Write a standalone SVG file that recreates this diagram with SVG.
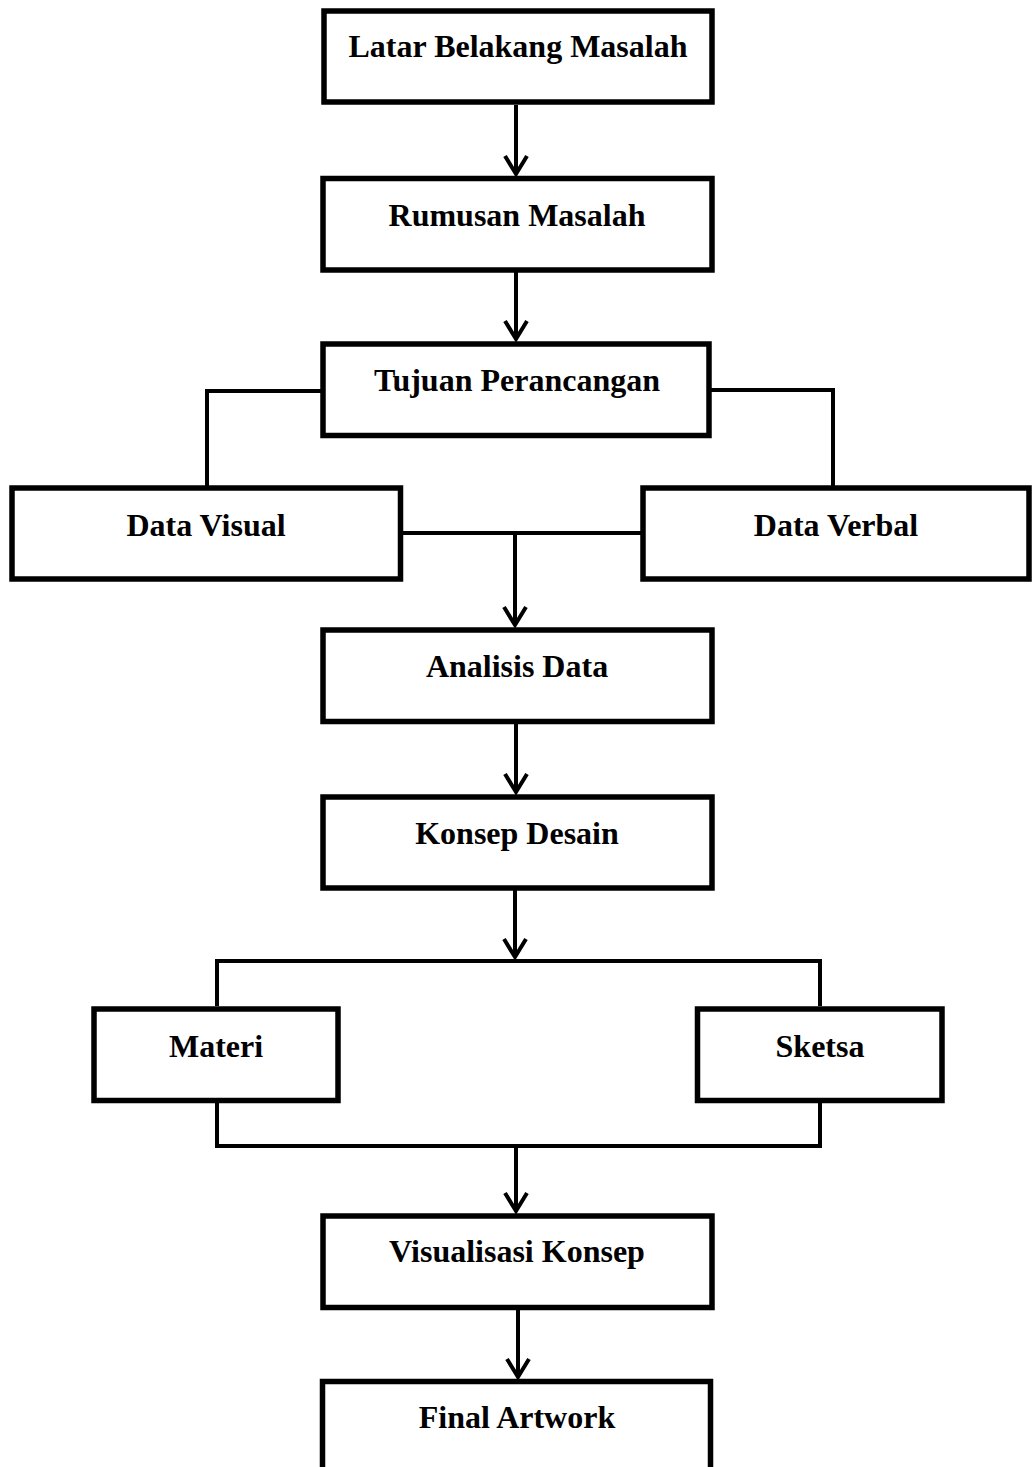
<svg xmlns="http://www.w3.org/2000/svg" width="1032" height="1467" viewBox="0 0 1032 1467">
<style>
.box{fill:#fff;stroke:#000;stroke-width:5.5}
.lbl{font-family:"Liberation Serif","Times New Roman",serif;font-weight:bold;font-size:32px;fill:#000;text-anchor:middle}
.ln{fill:none;stroke:#000;stroke-width:4}
.arr{fill:none;stroke:#000;stroke-width:4;marker-end:url(#ah)}
</style>
<defs>
<marker id="ah" markerUnits="userSpaceOnUse" markerWidth="30" markerHeight="30" viewBox="-22 -15 26 30" refX="0" refY="0" orient="auto">
<path d="M-18,-11 L0,0 L-18,11" fill="none" stroke="#000" stroke-width="4" stroke-linejoin="miter"/>
</marker>
</defs>
<rect width="1032" height="1467" fill="#fff"/>
<g id="connectors">
<path class="arr" d="M516,105 L516,174"/>
<path class="arr" d="M516,272 L516,339"/>
<path class="ln" d="M321,391 L207,391 L207,486"/>
<path class="ln" d="M711,390 L833,390 L833,486"/>
<path class="ln" d="M403,533 L641,533"/>
<path class="arr" d="M515,533 L515,625"/>
<path class="arr" d="M516,724 L516,792"/>
<path class="arr" d="M515,890 L515,957"/>
<path class="ln" d="M217,1006 L217,961 L820,961 L820,1006"/>
<path class="ln" d="M217,1103 L217,1146 L820,1146 L820,1103"/>
<path class="arr" d="M516,1146 L516,1211"/>
<path class="arr" d="M518,1310 L518,1377"/>
</g>
<g id="n1"><rect class="box" x="324" y="11" width="388" height="91"/><text class="lbl" x="518" y="57">Latar Belakang Masalah</text></g>
<g id="n2"><rect class="box" x="323" y="178.5" width="389" height="91.5"/><text class="lbl" x="517" y="226">Rumusan Masalah</text></g>
<g id="n3"><rect class="box" x="323" y="344" width="386" height="91.5"/><text class="lbl" x="517" y="391">Tujuan Perancangan</text></g>
<g id="n4"><rect class="box" x="12" y="488" width="388.5" height="91"/><text class="lbl" x="206" y="536">Data Visual</text></g>
<g id="n5"><rect class="box" x="643" y="488" width="386" height="91"/><text class="lbl" x="836" y="536">Data Verbal</text></g>
<g id="n6"><rect class="box" x="323" y="630" width="389" height="91.5"/><text class="lbl" x="517" y="677">Analisis Data</text></g>
<g id="n7"><rect class="box" x="323" y="797" width="389" height="91"/><text class="lbl" x="517" y="844">Konsep Desain</text></g>
<g id="n8"><rect class="box" x="94" y="1009" width="244" height="91.5"/><text class="lbl" x="216" y="1057">Materi</text></g>
<g id="n9"><rect class="box" x="697.5" y="1009" width="244.5" height="91.5"/><text class="lbl" x="820" y="1057">Sketsa</text></g>
<g id="n10"><rect class="box" x="323" y="1216" width="389" height="91.5"/><text class="lbl" x="517" y="1262">Visualisasi Konsep</text></g>
<g id="n11"><rect class="box" x="322.5" y="1381.5" width="388" height="110"/><text class="lbl" x="517" y="1428">Final Artwork</text></g>
</svg>
